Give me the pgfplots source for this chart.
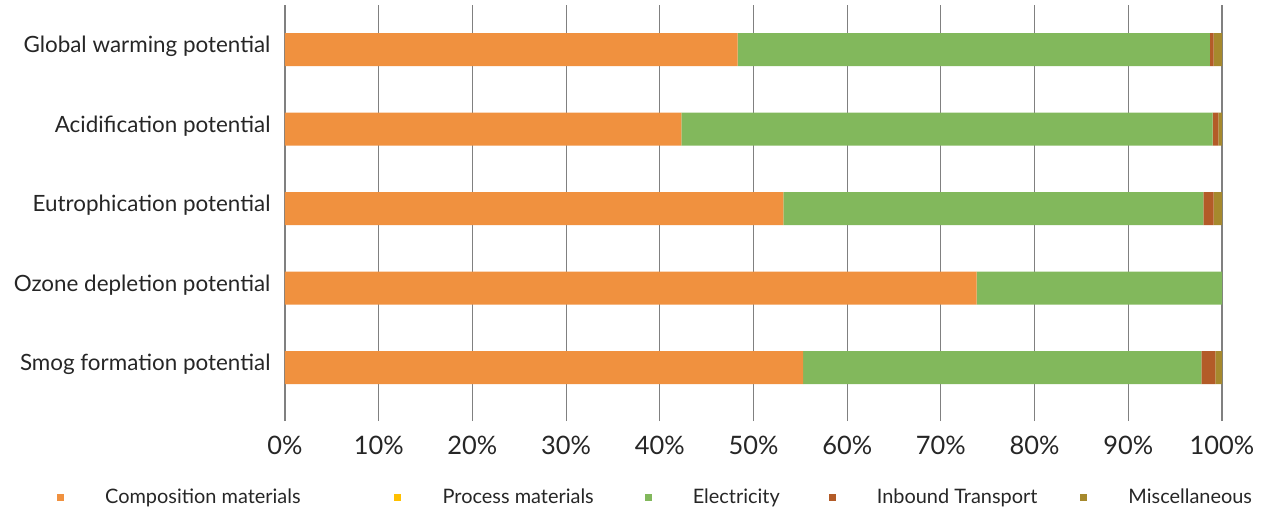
\documentclass[border=0pt]{standalone}
\usepackage{pgfplots}
\pgfplotsset{compat=1.18}
\usepackage{pgfplotstable}
\usepackage{fontspec}
\setmainfont{Lato}

\definecolor{compc}{HTML}{F0913F}
\definecolor{procc}{HTML}{FFC000}
\definecolor{elecc}{HTML}{82B85C}
\definecolor{inbc}{HTML}{B35B28}
\definecolor{miscc}{HTML}{A6892D}
\definecolor{txt}{HTML}{262626}

% Share (%) of each life-cycle stage per impact category
% (row 4 = global warming at the top, row 0 = smog formation at the bottom)
\pgfplotstableread{
idx comp proc elec inb misc
4   48.3 0    50.4 0.4 0.9
3   42.3 0    56.7 0.6 0.4
2   53.2 0    44.8 1.1 0.9
1   73.8 0    26.2 0   0
0   55.3 0    42.5 1.5 0.7
}\impacts

\begin{document}
\begin{tikzpicture}
\path[use as bounding box] (-285bp,-93bp) rectangle (990bp,421bp);
\begin{axis}[
  at={(0,0)}, anchor=south west,
  scale only axis,
  width=937bp, height=416bp,
  xbar stacked,
  bar width=33bp,
  xmin=0, xmax=100,
  ymin=-0.67, ymax=4.56,
  xtick={0,10,...,100},
  xticklabel={\pgfmathprintnumber{\tick}\%},
  /pgf/number format/assume math mode=true,
  ytick={0,1,2,3,4},
  yticklabels={Smog formation potential,Ozone depletion potential,Eutrophication potential,Acidification potential,Global warming potential},
  major tick length=0pt,
  axis line style={draw=none},
  xmajorgrids,
  grid style={draw=black!50, line width=1.1bp},
  xticklabel style={font=\fontsize{25.5}{30}\selectfont, text=txt, yshift=-12bp},
  yticklabel style={font=\fontsize{22.5}{26}\selectfont, text=txt, xshift=-11bp, yshift=3bp},
  legend style={
    at={(axis description cs:-0.2615,-0.183)}, anchor=west,
    draw=none, fill=none,
    font=\fontsize{20}{24}\selectfont,
    legend columns=5,
    /tikz/every odd column/.append style={column sep=0bp},
    text=txt,
  },
  legend cell align=left,
  legend image code/.code={%
    \fill[#1] (14bp,-3.5bp) rectangle (21bp,3.5bp);
    \node[draw=none, fill=none, inner sep=0pt, minimum width=60bp, anchor=west] at (0,0) {};},
]
\addplot[fill=compc, draw=none] table[x=comp, y=idx] {\impacts};
\addlegendentry{Composition materials\rule{78bp}{0pt}}
\addplot[fill=procc, draw=none] table[x=proc, y=idx] {\impacts};
\addlegendentry{Process materials\rule{35bp}{0pt}}
\addplot[fill=elecc, draw=none] table[x=elec, y=idx] {\impacts};
\addlegendentry{Electricity\rule{33bp}{0pt}}
\addplot[fill=inbc, draw=none] table[x=inb, y=idx] {\impacts};
\addlegendentry{Inbound Transport\rule{27bp}{0pt}}
\addplot[fill=miscc, draw=none] table[x=misc, y=idx] {\impacts};
\addlegendentry{Miscellaneous}
\end{axis}
\end{tikzpicture}
\end{document}
